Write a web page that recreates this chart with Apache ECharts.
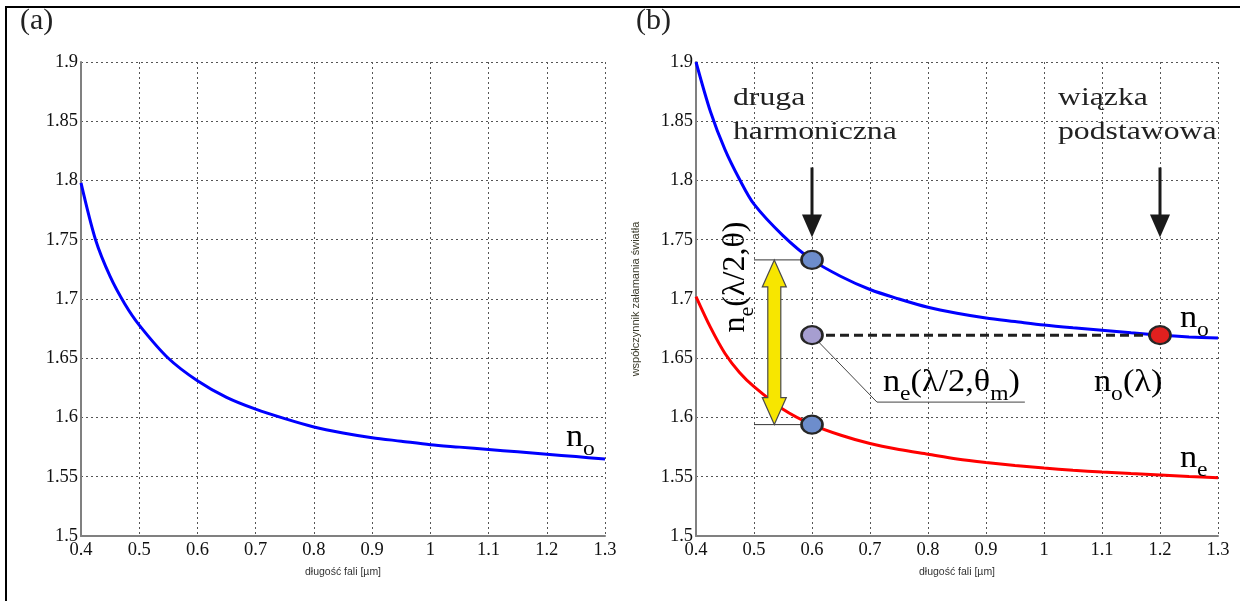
<!DOCTYPE html>
<html lang="pl">
<head>
    <meta charset="UTF-8">
    <title>Współczynnik załamania</title>
    <script src="https://cdn.jsdelivr.net/npm/echarts@6/dist/echarts.min.js"></script>
    <style>
        body { margin: 0; background: #fff; }
        #main { width: 1243px; height: 601px; }
    </style>
</head>
<body>
<div id="main"></div>
<script type="text/javascript">
    // długość fali [um]
    var wl = [0.40, 0.425, 0.45, 0.475, 0.50, 0.55, 0.60, 0.65, 0.70, 0.75, 0.80, 0.85,
              0.90, 0.95, 1.00, 1.05, 1.10, 1.15, 1.20, 1.25, 1.30];
    // (a) n_o
    var noLeft = [1.798, 1.750, 1.719, 1.696, 1.678, 1.650, 1.631, 1.617, 1.607, 1.599, 1.592, 1.587,
                  1.583, 1.580, 1.577, 1.575, 1.573, 1.571, 1.569, 1.567, 1.565];
    // (b) n_o i n_e
    var noRight = [1.900, 1.858, 1.826, 1.801, 1.780, 1.7535, 1.733, 1.719, 1.708, 1.700, 1.693, 1.688,
                   1.684, 1.681, 1.678, 1.6757, 1.6737, 1.6715, 1.6695, 1.668, 1.667];
    var neRight = [1.702, 1.676, 1.654, 1.638, 1.626, 1.607, 1.594, 1.585, 1.578, 1.573, 1.569, 1.565,
                   1.562, 1.5595, 1.5573, 1.5555, 1.554, 1.5527, 1.5515, 1.5503, 1.5492];
    var xTicks = [0.4, 0.5, 0.6, 0.7, 0.8, 0.9, 1, 1.1, 1.2, 1.3];
    var yTicks = [1.5, 1.55, 1.6, 1.65, 1.7, 1.75, 1.8, 1.85, 1.9];

    // punkty na wykresie (b)
    var markPts = [[0.6, 1.733], [0.6, 1.6695], [1.2, 1.6695], [0.6, 1.594]];
    var markCols = ['#6d8dcc', '#a69ed0', '#e0201f', '#6d8dcc'];
    var dashPts = [[0.6, 1.6695], [1.2, 1.6695]];
    var guideTop = [[0.5, 1.733], [0.6, 1.733]];
    var guideBot = [[0.5, 1.594], [0.6, 1.594]];
    var leader = [[0.6, 1.6695], [0.712, 1.613], [0.967, 1.613]];
    // strzałki: x, y od, y do, rodzaj (0 czarna, 1 żółta podwójna)
    var arrows = [[0.6, 1.811, 1.752, 0], [1.2, 1.811, 1.752, 0], [0.535, 1.733, 1.594, 1]];

    var serif = 'Liberation Serif';
    var zip = (xs, ys) => xs.map((x, i) => [x, ys[i]]);

    var chart = echarts.init(document.getElementById('main'));

    var mkX = (idx) => ({
        type: 'value', gridIndex: idx, min: xTicks[0], max: xTicks[xTicks.length - 1], interval: 0.1,
        name: 'długość fali [µm]', nameLocation: 'middle', nameGap: 31,
        nameTextStyle: { fontFamily: 'Liberation Sans', fontSize: 10.5, color: '#333' },
        axisLine: { onZero: false, lineStyle: { color: '#808080', width: 2 } },
        axisTick: { show: false },
        axisLabel: { fontFamily: serif, fontSize: 18.5, color: '#111', margin: 5,
            formatter: v => String(+v.toFixed(1)) },
        splitLine: { show: true, lineStyle: { color: '#555', type: [2, 3], width: 1 } }
    });
    var mkY = (idx, nm) => ({
        type: 'value', gridIndex: idx, min: yTicks[0], max: yTicks[yTicks.length - 1], interval: 0.05,
        name: nm, nameLocation: 'middle', nameGap: 55, nameRotate: 90,
        nameTextStyle: { fontFamily: 'Liberation Sans', fontSize: 11, color: '#3a3a2a' },
        axisLine: { onZero: false, lineStyle: { color: '#808080', width: 2 } },
        axisTick: { show: false },
        axisLabel: { fontFamily: serif, fontSize: 18.5, color: '#111', margin: 3,
            formatter: v => String(+v.toFixed(2)) },
        splitLine: { show: true, lineStyle: { color: '#555', type: [2, 3], width: 1 } }
    });

    var thin = (data, w, col, tp) => ({
        type: 'line', xAxisIndex: 1, yAxisIndex: 1, data: data, symbol: 'none',
        lineStyle: { color: col, width: w, type: tp || 'solid' }, z: 3, silent: true
    });
    var curve = (ax, ys, col) => ({
        type: 'line', xAxisIndex: ax, yAxisIndex: ax, data: zip(wl, ys), smooth: 0.3,
        symbol: 'none', lineStyle: { color: col, width: 3 }, z: 4, silent: true
    });

    // strzałki rysowane przez skale osi
    var renderArrow = (params, api) => {
        var p1 = api.coord([api.value(0), api.value(1)]);
        var p2 = api.coord([api.value(0), api.value(2)]);
        var cx = p1[0];
        if (api.value(3) === 0) {
            var hl = 23, hw = 10;
            return {
                type: 'group', children: [
                    { type: 'line', shape: { x1: cx, y1: p1[1], x2: cx, y2: p2[1] - hl + 2 },
                      style: { stroke: '#1a1a1a', lineWidth: 3 } },
                    { type: 'polygon', shape: { points: [[cx - hw, p2[1] - hl], [cx + hw, p2[1] - hl], [cx, p2[1]]] },
                      style: { fill: '#1a1a1a' } }
                ]
            };
        }
        var hl2 = 27, hw2 = 12, bw = 6.5;
        var t = p1[1], b = p2[1];
        return {
            type: 'polygon',
            shape: { points: [
                [cx, t], [cx + hw2, t + hl2], [cx + bw, t + hl2], [cx + bw, b - hl2], [cx + hw2, b - hl2],
                [cx, b], [cx - hw2, b - hl2], [cx - bw, b - hl2], [cx - bw, t + hl2], [cx - hw2, t + hl2]
            ] },
            style: { fill: '#f7e600', stroke: '#4a4a4a', lineWidth: 1.2 }
        };
    };

    var richSt = {
        n: { fontFamily: serif, fontSize: 32, color: '#222', verticalAlign: 'bottom', padding: [0, 0, 6, 0] },
        s: { fontFamily: serif, fontSize: 22, color: '#222', verticalAlign: 'bottom' }
    };
    var label = (x, y, txt, rot) => ({
        type: 'text', x: x, y: y, rotation: rot || 0, scaleX: rot ? 1 : 1.07, z: 10, silent: true,
        style: { text: txt, rich: richSt, align: rot ? 'center' : 'left', verticalAlign: rot ? 'middle' : 'top' }
    });
    var plain = (x, y, txt, fs, lh, sx) => ({
        type: 'text', x: x, y: y, scaleX: sx || 1, z: 10, silent: true,
        style: { text: txt, fontFamily: serif, fontSize: fs, lineHeight: lh, fill: '#222', verticalAlign: 'top' }
    });

    var option = {
        animation: false,
        backgroundColor: '#fff',
        grid: [
            { left: 81, top: 62, width: 524, height: 474 },
            { left: 696, top: 62, width: 522, height: 474 }
        ],
        xAxis: [mkX(0), mkX(1)],
        yAxis: [mkY(0, ''), mkY(1, 'współczynnik załamania światła')],
        series: [
            curve(0, noLeft, '#0000ff'),
            curve(1, noRight, '#0000ff'),
            curve(1, neRight, '#ff0000'),
            thin(guideTop, 1, '#333'),
            thin(guideBot, 1, '#333'),
            thin(leader, 1, '#444'),
            Object.assign(thin(dashPts, 3, '#1f1f1f', [9, 5]), { z: 5 }),
            { type: 'custom', xAxisIndex: 1, yAxisIndex: 1, data: arrows, renderItem: renderArrow,
              encode: { x: 0, y: [1, 2] }, z: 6, silent: true },
            { type: 'scatter', xAxisIndex: 1, yAxisIndex: 1, symbolSize: [21, 18], z: 7, silent: true,
              data: markPts.map((p, i) => ({ value: p, itemStyle: { color: markCols[i] } })),
              itemStyle: { borderColor: '#262626', borderWidth: 2.5, opacity: 1 } }
        ],
        graphic: [
            { type: 'line', shape: { x1: 5, y1: 7, x2: 1240, y2: 7 }, style: { stroke: '#000', lineWidth: 2 }, silent: true },
            { type: 'line', shape: { x1: 6, y1: 6, x2: 6, y2: 601 }, style: { stroke: '#000', lineWidth: 2 }, silent: true },
            plain(20, 6, '(a)', 30, 30),
            plain(636, 6, '(b)', 30, 30),
            plain(733, 81, 'druga\nharmoniczna', 26, 34, 1.22),
            plain(1058, 81, 'wiązka\npodstawowa', 26, 34, 1.22),
            label(566, 422, '{n|n}{s|o}'),
            label(1180, 303, '{n|n}{s|o}'),
            label(1180, 443, '{n|n}{s|e}'),
            label(883, 367, '{n|n}{s|e}{n|(λ/2,θ}{s|m}{n|)}'),
            label(1094, 367, '{n|n}{s|o}{n|(λ)}'),
            label(739, 277, '{n|n}{s|e}{n|(λ/2,θ)}', Math.PI / 2)
        ]
    };
    chart.setOption(option);
</script>
</body>
</html>
